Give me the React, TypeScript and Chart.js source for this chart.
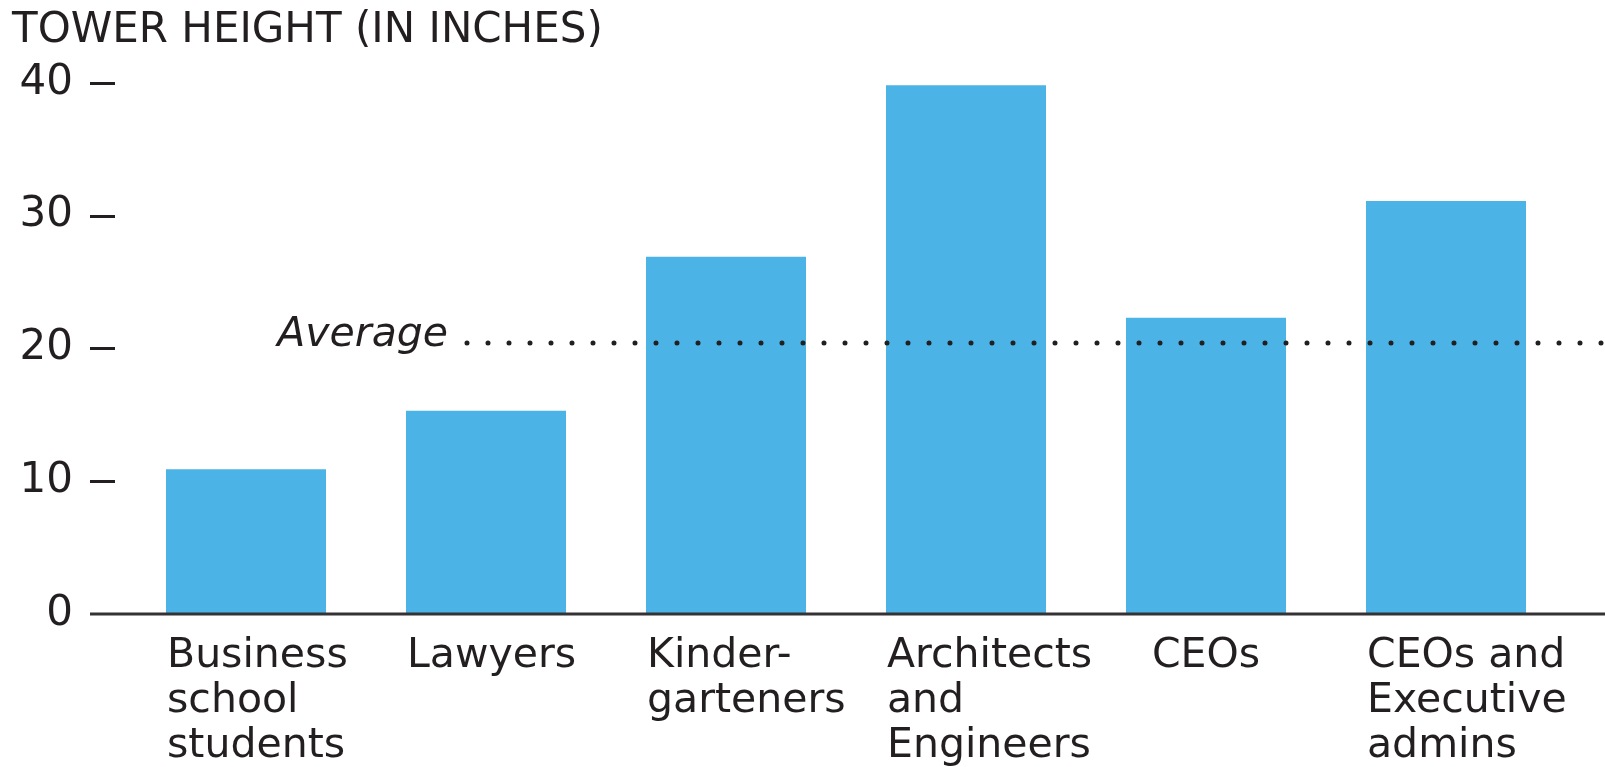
import React, { useEffect, useRef } from "react";
import { Chart, registerables } from "chart.js";

Chart.register(...registerables);

// ---- data ----
const categories: string[][] = [
  ["Business", "school", "students"],
  ["Lawyers"],
  ["Kinder-", "garteners"],
  ["Architects", "and", "Engineers"],
  ["CEOs"],
  ["CEOs and", "Executive", "admins"],
];
const towerHeights: number[] = [10.9, 15.3, 26.9, 39.8, 22.3, 31.1];
const averageHeight = 20.4;
const yTickValues: number[] = [0, 10, 20, 30, 40];
const titleText = "TOWER HEIGHT (IN INCHES)";
const averageLabel = "Average";

// ---- styles ----
const FONT = '"DejaVu Sans", sans-serif';
const TEXT = "#231f20";
const BAR = "#4cb3e6";
const W = 1605;
const H = 767;

const decorPlugin = {
  id: "decor",
  afterDatasetsDraw(chart: any) {
    const { ctx, scales } = chart;
    const x = scales.x;
    const y = scales.y;
    ctx.save();

    // title
    ctx.fillStyle = TEXT;
    ctx.font = `42px ${FONT}`;
    ctx.textAlign = "left";
    ctx.textBaseline = "alphabetic";
    ctx.fillText(titleText, 12, 42);

    // tick dashes
    ctx.strokeStyle = TEXT;
    ctx.lineWidth = 3;
    yTickValues.forEach((v) => {
      if (v === 0) return;
      const py = Math.round(y.getPixelForValue(v)) + 0.5;
      ctx.beginPath();
      ctx.moveTo(90, py);
      ctx.lineTo(115, py);
      ctx.stroke();
    });

    // baseline
    const by = y.getPixelForValue(0);
    ctx.strokeStyle = "#333";
    ctx.lineWidth = 3;
    ctx.beginPath();
    ctx.moveTo(90, by);
    ctx.lineTo(chart.width, by);
    ctx.stroke();

    // average dotted line
    const ay = y.getPixelForValue(averageHeight);
    ctx.strokeStyle = TEXT;
    ctx.lineWidth = 5;
    ctx.lineCap = "round";
    ctx.setLineDash([0, 21]);
    ctx.beginPath();
    ctx.moveTo(467, ay);
    ctx.lineTo(chart.width, ay);
    ctx.stroke();
    ctx.setLineDash([]);
    ctx.lineCap = "butt";

    ctx.font = `italic 41px ${FONT}`;
    ctx.textAlign = "right";
    ctx.fillStyle = TEXT;
    ctx.fillText(averageLabel, 448, ay + 3);

    // x labels
    ctx.font = `41px ${FONT}`;
    ctx.textAlign = "left";
    const meta = chart.getDatasetMeta(0);
    categories.forEach((lines, i) => {
      const bar = meta.data[i];
      const bw = bar.width;
      const cx = x.getPixelForValue(i);
      const maxW = Math.max(...lines.map((l) => ctx.measureText(l).width));
      const left = lines.length === 1 && maxW < bw * 0.8 ? cx - maxW / 2 : cx - bw / 2 + 1;
      lines.forEach((l, j) => {
        ctx.fillText(l, left, by + 53 + j * 45);
      });
    });

    ctx.restore();
  },
};

export default function App() {
  const ref = useRef<HTMLCanvasElement | null>(null);

  useEffect(() => {
    document.body.style.margin = "0";
    document.documentElement.style.overflow = "hidden";
    const canvas = ref.current;
    if (!canvas) return;
    const chart = new Chart(canvas, {
      type: "bar",
      data: {
        labels: categories.map((c) => c.join(" ")),
        datasets: [
          {
            data: towerHeights,
            backgroundColor: BAR,
            borderWidth: 0,
            barPercentage: 1,
            categoryPercentage: 160 / 240,
          },
        ],
      },
      options: {
        responsive: false,
        animation: false,
        devicePixelRatio: 1,
        layout: { padding: { left: 0, right: 39, top: 82.7, bottom: 153 } },
        plugins: {
          legend: { display: false },
          title: { display: false },
          tooltip: { enabled: false },
        },
        scales: {
          x: {
            display: false,
          },
          y: {
            min: 0,
            max: 40,
            afterFit: (scale: any) => {
              scale.width = 126;
            },
            afterBuildTicks: (scale: any) => {
              scale.ticks = yTickValues.map((v) => ({ value: v }));
            },
            grid: { display: false, drawTicks: false },
            border: { display: false },
            ticks: {
              padding: 53,
              color: TEXT,
              font: { family: FONT, size: 42 },
            },
          },
        },
      },
      plugins: [decorPlugin],
    });
    return () => chart.destroy();
  }, []);

  return <canvas ref={ref} width={W} height={H} style={{ display: "block" }} />;
}
